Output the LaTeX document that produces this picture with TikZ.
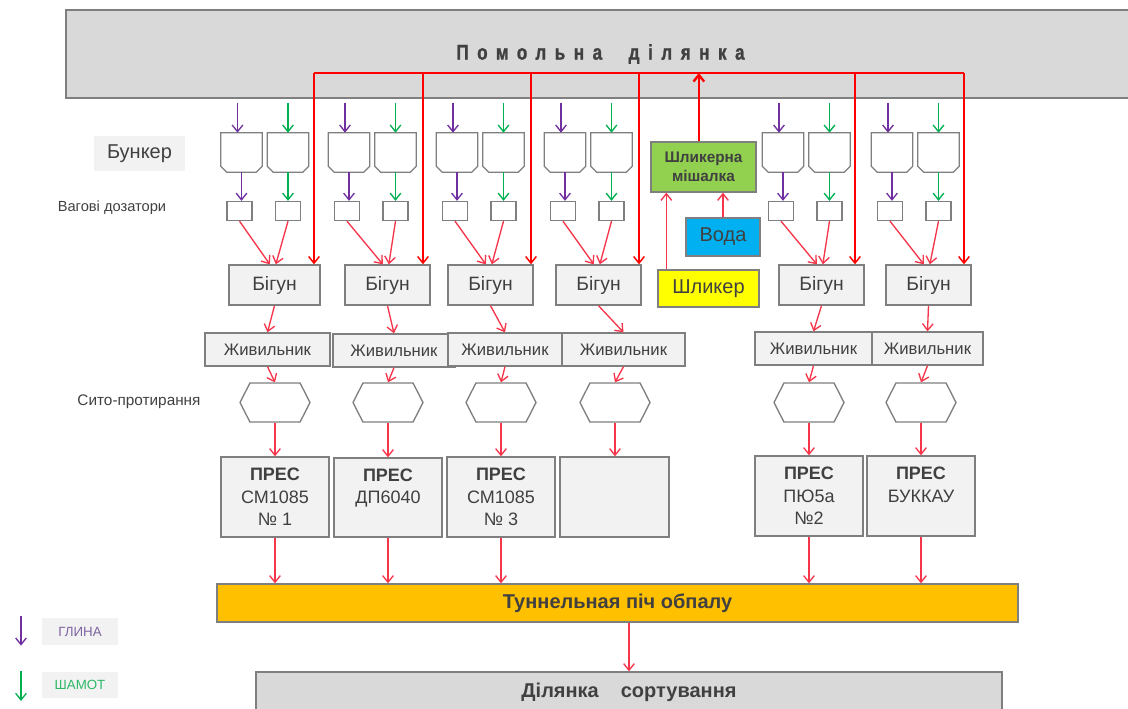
\documentclass[tikz,border=0pt]{standalone}
\usepackage{fontspec}
\setmainfont{Liberation Sans}
\newfontfamily\titlefont[UprightFont={* Bold},FakeStretch=0.8,FakeBold=1.2,LetterSpace=40]{Liberation Sans}
\usetikzlibrary{shapes.symbols, arrows.meta}

\definecolor{linegray}{HTML}{7F7F7F}
\definecolor{boxgray}{HTML}{F2F2F2}
\definecolor{zonegray}{HTML}{D9D9D9}
\definecolor{textgray}{HTML}{404040}
\definecolor{clay}{HTML}{7030A0}
\definecolor{claytext}{HTML}{8064A2}
\definecolor{chamotte}{HTML}{00B050}
\definecolor{chamottetext}{HTML}{2DB866}
\definecolor{flowred}{HTML}{F5354A}
\definecolor{busred}{HTML}{FF0000}
\definecolor{mixgreen}{HTML}{92D050}
\definecolor{waterblue}{HTML}{00B0F0}
\definecolor{slipyellow}{HTML}{FFFF00}
\definecolor{kilnorange}{HTML}{FFC000}

\tikzstyle{zone} = [
    rectangle,
    draw=linegray,
    fill=zonegray,
    line width=1pt,
    text=textgray,
    inner sep=0pt
]
\tikzstyle{process} = [
    rectangle,
    draw=linegray,
    fill=boxgray,
    line width=1pt,
    text=textgray,
    inner sep=0pt
]
\tikzstyle{bunker} = [
    rectangle,
    minimum width=30.75pt,
    minimum height=29.25pt,
    inner sep=0pt
]
\tikzstyle{bunkerline} = [draw=linegray, line width=1pt, fill=white]
\tikzstyle{doser} = [
    rectangle,
    minimum width=18.75pt,
    minimum height=14.25pt,
    inner sep=0pt,
    draw=linegray,
    line width=1pt,
    fill=white
]
\tikzstyle{sieve} = [
    signal,
    signal to=east and west,
    signal pointer angle=126,
    minimum width=52.5pt,
    minimum height=29.25pt,
    inner sep=0pt,
    draw=linegray,
    line width=1pt,
    fill=white
]
\tikzstyle{label} = [text=textgray, inner sep=0pt]
\tikzstyle{flow} = [draw=flowred, line width=1pt, -{Straight Barb[length=5pt,width=8pt]}]
\tikzstyle{busline} = [draw=busred, line width=1.8pt]
\tikzstyle{busdrop} = [draw=busred, line width=1.1pt, -{Straight Barb[length=5pt,width=8pt]}]
\tikzstyle{busup} = [draw=busred, line width=1.8pt, -{Straight Barb[length=5pt,width=8pt]}]
\tikzstyle{clayflow} = [draw=clay, line width=1pt, -{Straight Barb[length=5pt,width=8pt]}]
\tikzstyle{chamotteflow} = [draw=chamotte, line width=1pt, -{Straight Barb[length=5pt,width=8pt]}]

\newcommand{\hopper}[1]{%
    \draw [bunkerline] (#1.north west) -- (#1.north east)
        -- ([yshift=4.5pt]#1.south east) -- ([xshift=-4.5pt]#1.south east)
        -- ([xshift=4.5pt]#1.south west) -- ([yshift=4.5pt]#1.south west) -- cycle;}

\begin{document}
\begin{tikzpicture}[x=0.75pt,y=-0.75pt]

\useasboundingbox (0,0) rectangle (1128,708);
\clip (0,0) rectangle (1128,708);

\node (grind) [zone, minimum width=801.75pt, minimum height=66pt] at (600.5,54)
{\titlefont\fontsize{16}{18}\selectfont Помольна~~ділянка};

\node (bunkerlbl) [process, draw=none, minimum width=68.25pt, minimum height=26.25pt] at (139.5,153.5)
{\fontsize{15}{17}\selectfont Бункер};
\node (doserlbl) [label] at (112,208) {\fontsize{11}{13}\selectfont Вагові дозатори};
\node (sievelbl) [label] at (139,402) {\fontsize{11.5}{13}\selectfont Сито-протирання};

\foreach \n/\x in {1/241.5, 2/349, 3/457, 4/565, 5/783, 6/892} {
    \node (bunA\n) [bunker] at (\x,152.5) {};
    \node (bunB\n) [bunker] at (\x+46.5,152.5) {};
    \hopper{bunA\n}
    \hopper{bunB\n}
    \node (dosA\n) [doser] at (\x-2,211) {};
    \node (dosB\n) [doser] at (\x+46.5,211) {};
    \draw [clayflow] ([xshift=-3pt,yshift=22.5pt]bunA\n.north) -- ([xshift=-3pt]bunA\n.north);
    \draw [chamotteflow] ([yshift=22.5pt]bunB\n.north) -- (bunB\n.north);
    \draw [clayflow] (bunA\n.south) -- (bunA\n.south |- dosA\n.north);
    \draw [chamotteflow] (bunB\n.south) -- (bunB\n.south |- dosB\n.north);
}

\foreach \n/\x/\w in {1/274.5/68.25, 2/387.5/63.75, 3/490.5/63.75, 4/598.5/63.75, 5/821.5/63.75, 6/928.5/63.75} {
    \node (bigun\n) [process, minimum width=\w pt, minimum height=30pt,
        font=\fontsize{14.5}{16}\selectfont] at (\x,285) {Бігун};
    \draw [flow] (dosA\n.south) -- ([xshift=-3.5pt]bigun\n.north);
    \draw [flow] (dosB\n.south) -- ([xshift=1pt]bigun\n.north);
}

\foreach \n/\x in {1/314, 2/423, 3/531, 4/639, 5/855, 6/964} {
    \coordinate (drop\n) at (\x,73);
    \draw [busdrop] (drop\n) -- (drop\n |- bigun\n.north);
}
\draw [busline] (drop1) -- (drop6);

\node (mixer) [process, fill=mixgreen, minimum width=78.75pt, minimum height=37.5pt, align=center,
    font=\bfseries\fontsize{11.5}{14}\selectfont] at (703.5,167) {Шликерна\\ мішалка};
\node (water) [process, fill=waterblue, minimum width=55.5pt, minimum height=28.5pt,
    font=\fontsize{15}{17}\selectfont] at (723,237) {Вода};
\node (slip) [process, fill=slipyellow, minimum width=75.75pt, minimum height=27.75pt,
    font=\fontsize{15}{17}\selectfont] at (708.5,288.5) {Шликер};

\draw [flow] ([xshift=6.75pt]slip.north west) -- ([xshift=6.75pt]slip.north west |- mixer.south);
\draw [flow] (water.north) -- (water.north |- mixer.south);
\draw [busup] ([xshift=-3.5pt]mixer.north) -- ([xshift=-3.5pt]mixer.north |- drop1);

\foreach \n/\x/\y/\w in {1/267.5/349.5/93.75, 2/394/350.5/91.5, 3/505/349.5/85.5, 4/623.5/349.5/92.25, 5/813.5/348.5/87.75, 6/927.5/348.5/83.25} {
    \node (feeder\n) [process, minimum width=\w pt, minimum height=24.75pt,
        font=\fontsize{12.5}{14}\selectfont] at (\x,\y) {Живильник};
    \draw [flow] (bigun\n.south) -- (feeder\n.north);
}

\tikzstyle{press} = [process, minimum width=81pt, minimum height=60pt, align=center,
    font=\fontsize{13.5}{17}\selectfont]
\node (press1) [press] at (275,497) {\textbf{ПРЕС}\\ СМ1085\\ № 1};
\node (press2) [press, minimum height=59.25pt] at (388,497.5) {\textbf{ПРЕС}\\ ДП6040\\ \mbox{}};
\node (press3) [press] at (501,497) {\textbf{ПРЕС}\\ СМ1085\\ № 3};
\node (press4) [press, minimum width=81.75pt] at (614.5,497) {};
\node (press5) [press] at (809,496) {\textbf{ПРЕС}\\ ПЮ5а\\ №2};
\node (press6) [press] at (921,496) {\textbf{ПРЕС}\\ БУККАУ\\ \mbox{}};

\foreach \n/\x in {1/275, 2/388, 3/501, 4/615, 5/809, 6/921} {
    \node (sieve\n) [sieve] at (\x,402.5) {};
    \draw [flow] (feeder\n.south) -- (sieve\n.north);
    \draw [flow] (sieve\n.south) -- (sieve\n.south |- press\n.north);
}

\node (kiln) [process, fill=kilnorange, minimum width=600.75pt, minimum height=28.5pt,
    font=\bfseries\fontsize{15}{17}\selectfont] at (617.5,603) {Туннельная піч обпалу};
\node (sort) [zone, minimum width=559.5pt, minimum height=30pt,
    font=\bfseries\fontsize{15}{17}\selectfont] at (629,692) {Ділянка\hspace{1.1em}сортування};

\foreach \n in {1, 2, 3, 5, 6} {
    \draw [flow] (press\n.south) -- (press\n.south |- kiln.north);
}
\draw [flow] (kiln.south -| sort.north) -- (sort.north);

\node (legclay) [process, draw=none, text=claytext, minimum width=57pt, minimum height=20.25pt,
    font=\fontsize{10}{12}\selectfont] at (80,631.5) {ГЛИНА};
\node (legcham) [process, draw=none, text=chamottetext, minimum width=57pt, minimum height=19.5pt,
    font=\fontsize{10}{12}\selectfont] at (80,685) {ШАМОТ};
\coordinate (clayin) at (21,616);
\coordinate (chamin) at (21,671);
\draw [clayflow] (clayin) -- (clayin |- legclay.south);
\draw [chamotteflow] (chamin) -- ++(0,30);

\end{tikzpicture}
\end{document}
